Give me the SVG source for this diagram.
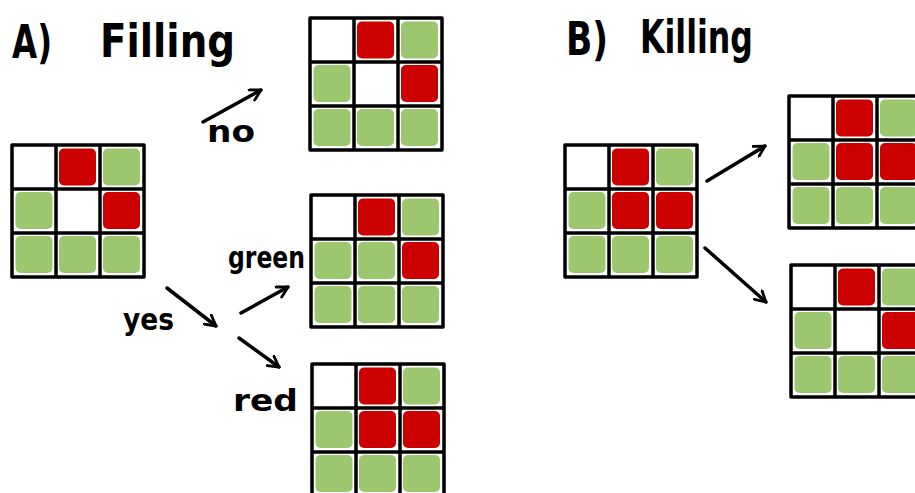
<svg xmlns="http://www.w3.org/2000/svg" width="915" height="493" viewBox="0 0 915 493">
<style>
.frame{fill:none;stroke:#000;stroke-width:3.5;stroke-linejoin:round}
.r{fill:#cc0000}
.g{fill:#9cc76f}
.lbl{font-family:"DejaVu Sans","Liberation Sans",sans-serif;font-weight:bold;fill:#000}
.arr{fill:none;stroke:#000;stroke-width:3.5;stroke-linecap:round;marker-end:url(#head)}
</style>
<defs>
<marker id="head" viewBox="0 0 12 12" refX="10" refY="6" markerWidth="4" markerHeight="4" orient="auto" markerUnits="strokeWidth">
<path d="M1,1 L10,6 L1,11" fill="none" stroke="#000" stroke-width="2.4" stroke-linecap="round" stroke-linejoin="round"/>
</marker>
<g id="frame" class="frame">
<rect x="0" y="0" width="132" height="132"/>
<line x1="44" y1="0" x2="44" y2="132"/>
<line x1="88" y1="0" x2="88" y2="132"/>
<line x1="0" y1="44" x2="132" y2="44"/>
<line x1="0" y1="88" x2="132" y2="88"/>
</g>
</defs>
<rect width="915" height="493" fill="#fff"/>

<g id="labels">
<text class="lbl" x="12" y="58" font-size="46" textLength="40" lengthAdjust="spacingAndGlyphs">A)</text>
<text class="lbl" x="100" y="57" font-size="46" textLength="135" lengthAdjust="spacingAndGlyphs">Filling</text>
<text class="lbl" x="566" y="55" font-size="46" textLength="42" lengthAdjust="spacingAndGlyphs">B)</text>
<text class="lbl" x="640" y="53" font-size="46" textLength="113" lengthAdjust="spacingAndGlyphs">Killing</text>
<text class="lbl" x="207" y="142" font-size="30" textLength="48" lengthAdjust="spacingAndGlyphs">no</text>
<text class="lbl" x="228" y="268" font-size="30" textLength="77" lengthAdjust="spacingAndGlyphs">green</text>
<text class="lbl" x="123" y="330" font-size="30" textLength="51" lengthAdjust="spacingAndGlyphs">yes</text>
<text class="lbl" x="233" y="411" font-size="30" textLength="65" lengthAdjust="spacingAndGlyphs">red</text>
</g>

<g id="connectors">
<line class="arr" x1="203" y1="122" x2="261" y2="90"/>
<line class="arr" x1="167" y1="288" x2="216" y2="326"/>
<line class="arr" x1="241" y1="313" x2="288" y2="287"/>
<line class="arr" x1="239" y1="338" x2="279" y2="367"/>
<line class="arr" x1="707" y1="181" x2="765" y2="146"/>
<line class="arr" x1="705" y1="248" x2="766" y2="302"/>
</g>

<g id="grid-start" transform="translate(12,145)">
<rect class="r" x="47" y="3.5" width="37" height="37" rx="5"/>
<rect class="g" x="91" y="3.5" width="37" height="37" rx="5"/>
<rect class="g" x="3.5" y="47" width="37" height="37" rx="5"/>
<rect class="r" x="91" y="47" width="37" height="37" rx="5"/>
<rect class="g" x="3.5" y="91" width="37" height="37" rx="5"/>
<rect class="g" x="47" y="91" width="37" height="37" rx="5"/>
<rect class="g" x="91" y="91" width="37" height="37" rx="5"/>
<use href="#frame"/>
</g>

<g id="grid-no" transform="translate(310,18)">
<rect class="r" x="47" y="3.5" width="37" height="37" rx="5"/>
<rect class="g" x="91" y="3.5" width="37" height="37" rx="5"/>
<rect class="g" x="3.5" y="47" width="37" height="37" rx="5"/>
<rect class="r" x="91" y="47" width="37" height="37" rx="5"/>
<rect class="g" x="3.5" y="91" width="37" height="37" rx="5"/>
<rect class="g" x="47" y="91" width="37" height="37" rx="5"/>
<rect class="g" x="91" y="91" width="37" height="37" rx="5"/>
<use href="#frame"/>
</g>

<g id="grid-green" transform="translate(311,195)">
<rect class="r" x="47" y="3.5" width="37" height="37" rx="5"/>
<rect class="g" x="91" y="3.5" width="37" height="37" rx="5"/>
<rect class="g" x="3.5" y="47" width="37" height="37" rx="5"/>
<rect class="g" x="47" y="47" width="37" height="37" rx="5"/>
<rect class="r" x="91" y="47" width="37" height="37" rx="5"/>
<rect class="g" x="3.5" y="91" width="37" height="37" rx="5"/>
<rect class="g" x="47" y="91" width="37" height="37" rx="5"/>
<rect class="g" x="91" y="91" width="37" height="37" rx="5"/>
<use href="#frame"/>
</g>

<g id="grid-red" transform="translate(312,364)">
<rect class="r" x="47" y="3.5" width="37" height="37" rx="5"/>
<rect class="g" x="91" y="3.5" width="37" height="37" rx="5"/>
<rect class="g" x="3.5" y="47" width="37" height="37" rx="5"/>
<rect class="r" x="47" y="47" width="37" height="37" rx="5"/>
<rect class="r" x="91" y="47" width="37" height="37" rx="5"/>
<rect class="g" x="3.5" y="91" width="37" height="37" rx="5"/>
<rect class="g" x="47" y="91" width="37" height="37" rx="5"/>
<rect class="g" x="91" y="91" width="37" height="37" rx="5"/>
<use href="#frame"/>
</g>

<g id="grid-b-start" transform="translate(565,145)">
<rect class="r" x="47" y="3.5" width="37" height="37" rx="5"/>
<rect class="g" x="91" y="3.5" width="37" height="37" rx="5"/>
<rect class="g" x="3.5" y="47" width="37" height="37" rx="5"/>
<rect class="r" x="47" y="47" width="37" height="37" rx="5"/>
<rect class="r" x="91" y="47" width="37" height="37" rx="5"/>
<rect class="g" x="3.5" y="91" width="37" height="37" rx="5"/>
<rect class="g" x="47" y="91" width="37" height="37" rx="5"/>
<rect class="g" x="91" y="91" width="37" height="37" rx="5"/>
<use href="#frame"/>
</g>

<g id="grid-b-top" transform="translate(789,96)">
<rect class="r" x="47" y="3.5" width="37" height="37" rx="5"/>
<rect class="g" x="91" y="3.5" width="37" height="37" rx="5"/>
<rect class="g" x="3.5" y="47" width="37" height="37" rx="5"/>
<rect class="r" x="47" y="47" width="37" height="37" rx="5"/>
<rect class="r" x="91" y="47" width="37" height="37" rx="5"/>
<rect class="g" x="3.5" y="91" width="37" height="37" rx="5"/>
<rect class="g" x="47" y="91" width="37" height="37" rx="5"/>
<rect class="g" x="91" y="91" width="37" height="37" rx="5"/>
<use href="#frame"/>
</g>

<g id="grid-b-bottom" transform="translate(791,265)">
<rect class="r" x="47" y="3.5" width="37" height="37" rx="5"/>
<rect class="g" x="91" y="3.5" width="37" height="37" rx="5"/>
<rect class="g" x="3.5" y="47" width="37" height="37" rx="5"/>
<rect class="r" x="91" y="47" width="37" height="37" rx="5"/>
<rect class="g" x="3.5" y="91" width="37" height="37" rx="5"/>
<rect class="g" x="47" y="91" width="37" height="37" rx="5"/>
<rect class="g" x="91" y="91" width="37" height="37" rx="5"/>
<use href="#frame"/>
</g>
</svg>
